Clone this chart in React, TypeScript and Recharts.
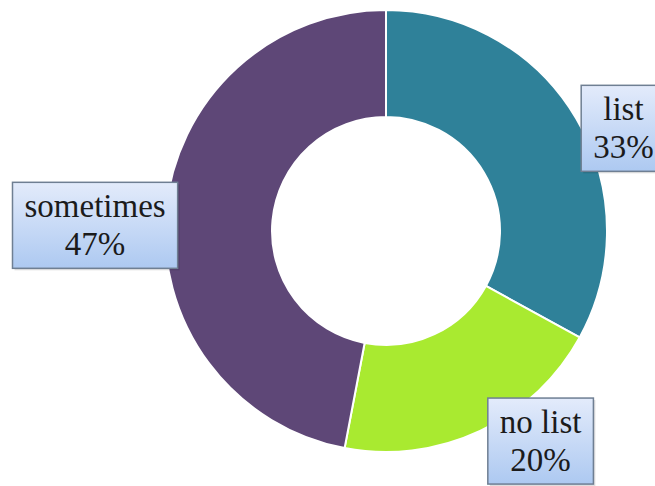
import { PieChart, Pie, Cell } from "recharts";

// Shopping list survey data
const categories = ["list", "no list", "sometimes"];
const shares = [33, 20, 47];
const sliceColors = ["#2f8199", "#a9ea30", "#5e4777"];

// nudges for the label boxes, relative to a point just outside each slice
const labelNudge = [
  { dx: 30, dy: 20 },
  { dx: 52, dy: -8 },
  { dx: -51, dy: 17 },
];

const data = categories.map((name, i) => ({ name, value: shares[i] }));

const FONT = "Liberation Serif";
const FONT_SIZE = 33;

const measure = (text: string) => {
  const ctx = document.createElement("canvas").getContext("2d");
  if (!ctx) return text.length * FONT_SIZE * 0.5;
  ctx.font = `${FONT_SIZE}px "${FONT}"`;
  return ctx.measureText(text).width;
};

const RADIAN = Math.PI / 180;

const BoxLabel = (props: any) => {
  const { cx, cy, midAngle, outerRadius, index, name, value } = props;
  const r = outerRadius + 20;
  const nudge = labelNudge[index] || { dx: 0, dy: 0 };
  const x = cx + r * Math.cos(-midAngle * RADIAN) + nudge.dx;
  const y = cy + r * Math.sin(-midAngle * RADIAN) + nudge.dy;
  const line2 = `${value}%`;
  const w = Math.max(measure(name), measure(line2)) + 24;
  const h = 86;
  const textStyle = { fontFamily: `"${FONT}", serif`, fontSize: FONT_SIZE };
  return (
    <g>
      <rect
        x={x - w / 2 + 2}
        y={y - h / 2 + 2}
        width={w}
        height={h}
        fill="rgba(0,0,0,0.12)"
      />
      <rect
        x={x - w / 2}
        y={y - h / 2}
        width={w}
        height={h}
        fill="url(#boxFill)"
        stroke="#6f7f93"
        strokeWidth={1.5}
      />
      <text x={x} y={y - 8} textAnchor="middle" style={textStyle} fill="#1b1b1b">
        {name}
      </text>
      <text x={x} y={y + 30} textAnchor="middle" style={textStyle} fill="#1b1b1b">
        {line2}
      </text>
    </g>
  );
};

export default function App() {
  return (
    <div style={{ width: 655, height: 486, background: "#fff" }}>
      <style>{"body{margin:0}"}</style>
      <PieChart width={655} height={486} margin={{ top: 0, right: 0, bottom: 0, left: 0 }}>
        <defs>
          <linearGradient id="boxFill" x1="0" y1="0" x2="0" y2="1">
            <stop offset="0%" stopColor="#e3ebfb" />
            <stop offset="100%" stopColor="#adc9f1" />
          </linearGradient>
        </defs>
        <Pie
          data={data}
          dataKey="value"
          nameKey="name"
          cx={386}
          cy={231}
          innerRadius={114}
          outerRadius={221}
          startAngle={90}
          endAngle={-270}
          stroke="#ffffff"
          strokeWidth={2}
          label={BoxLabel}
          labelLine={false}
          isAnimationActive={false}
        >
          {data.map((d, i) => (
            <Cell key={d.name} fill={sliceColors[i]} />
          ))}
        </Pie>
      </PieChart>
    </div>
  );
}
